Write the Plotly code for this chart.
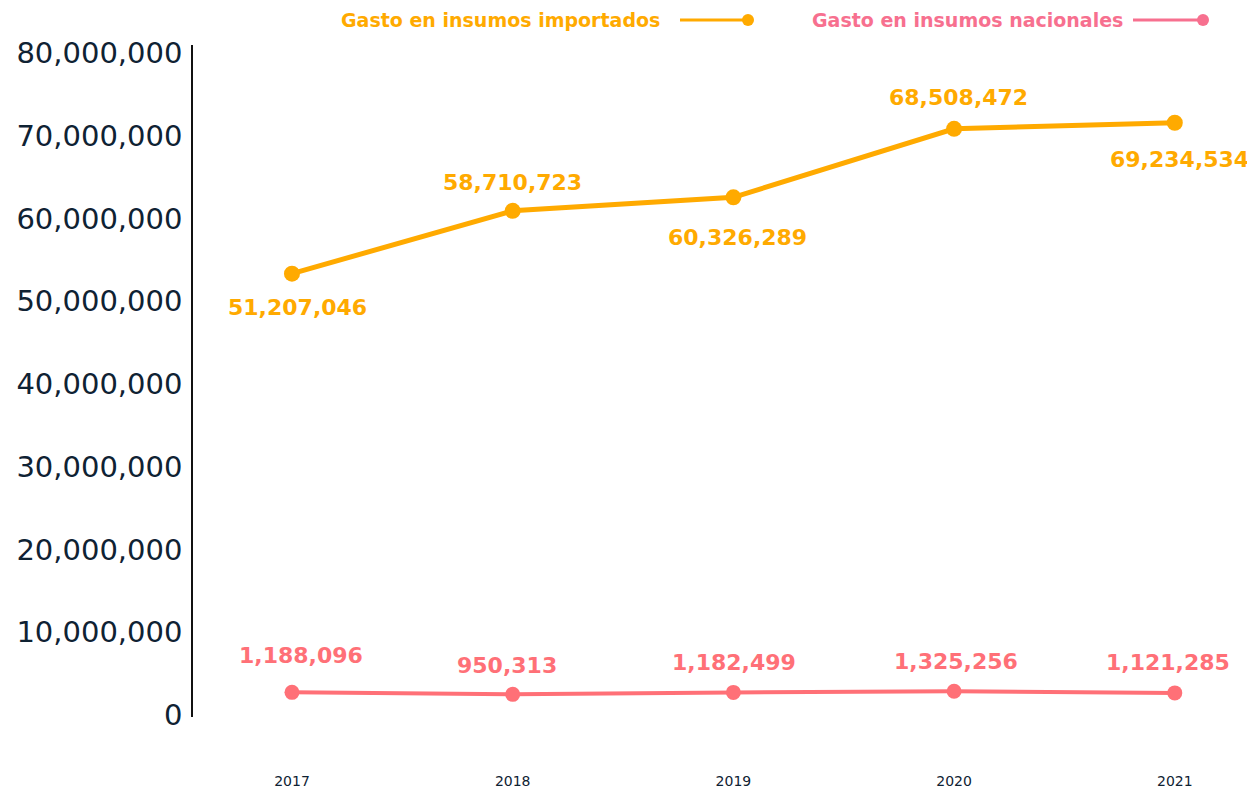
import plotly.graph_objects as go

years = [2017, 2018, 2019, 2020, 2021]
importados = [51207046, 58710723, 60326289, 68508472, 69234534]
nacionales = [1188096, 950313, 1182499, 1325256, 1121285]
y_ticks = [0, 10000000, 20000000, 30000000, 40000000, 50000000, 60000000, 70000000, 80000000]
serie_imp = "Gasto en insumos importados"
serie_nac = "Gasto en insumos nacionales"

ORANGE = "#FFAA00"
PINK = "#FF7077"
PINK_LEG = "#F7708F"
NAVY = "#0F2233"
FONT = "DejaVu Sans"

fig = go.Figure()
# empty trace so the labelled left axis is drawn
fig.add_trace(go.Scatter(x=[], y=[], yaxis="y", showlegend=False, hoverinfo="skip"))
fig.add_trace(go.Scatter(x=years, y=importados, mode="lines+markers", yaxis="y2",
                         line=dict(color=ORANGE, width=5), marker=dict(size=16, color=ORANGE),
                         name=serie_imp, showlegend=False, hoverinfo="x+y"))
fig.add_trace(go.Scatter(x=years, y=nacionales, mode="lines+markers", yaxis="y2",
                         line=dict(color=PINK, width=4), marker=dict(size=15, color=PINK),
                         name=serie_nac, showlegend=False, hoverinfo="x+y"))

imp_shift = [(6, -34), (0, 28), (4, -40), (4, 31), (5, -37)]
nac_shift = [(9, 37), (-6, 29), (1, 30), (2, 30), (-7, 30)]
annotations = []
for yr, v, (dx, dy) in zip(years, importados, imp_shift):
    annotations.append(dict(x=yr, y=v, xref="x", yref="y2", text=f"<b>{v:,}</b>", showarrow=False,
                            xshift=dx, yshift=dy, font=dict(family=FONT, size=22, color=ORANGE)))
for yr, v, (dx, dy) in zip(years, nacionales, nac_shift):
    annotations.append(dict(x=yr, y=v, xref="x", yref="y2", text=f"<b>{v:,}</b>", showarrow=False,
                            xshift=dx, yshift=dy, font=dict(family=FONT, size=22, color=PINK)))

# custom legend (text, then line with dot)
L, W = 193, 1048
def px(v):
    return (v - L) / W
ly = (717 - 20) / 672
shapes = []
for name, col, tx, lx0, lx1 in [(serie_imp, ORANGE, 662, 680, 748), (serie_nac, PINK_LEG, 1125, 1133, 1203)]:
    annotations.append(dict(x=px(tx), y=ly, xref="paper", yref="paper", xanchor="right", yanchor="middle",
                            text=f"<b>{name}</b>", showarrow=False,
                            font=dict(family=FONT, size=19, color=col)))
    shapes.append(dict(type="line", xref="paper", yref="paper", x0=px(lx0), x1=px(lx1), y0=ly, y1=ly,
                       line=dict(color=col, width=3)))
    shapes.append(dict(type="circle", xref="paper", yref="paper", xsizemode="pixel", ysizemode="pixel",
                       xanchor=px(lx1), yanchor=ly, x0=-6, x1=6, y0=-6, y1=6,
                       fillcolor=col, line=dict(color=col, width=0)))

fig.update_layout(
    width=1247, height=784,
    margin=dict(l=185, r=14, t=37, b=75),
    paper_bgcolor="white", plot_bgcolor="white",
    showlegend=False,
    annotations=annotations, shapes=shapes,
    xaxis=dict(range=[2016.5515, 2021.3], tickvals=years, ticktext=[str(y) for y in years],
               showgrid=False, zeroline=False, showline=False, ticks="", automargin=False,
               tickfont=dict(family=FONT, size=14, color=NAVY), ticklabelstandoff=54),
    yaxis=dict(range=[-0.242e6, 80.97e6], tickvals=y_ticks, ticktext=[f"{t:,}" for t in y_ticks],
               showgrid=False, zeroline=False, showline=True, linecolor="#111111", linewidth=1.5,
               ticks="", automargin=False,
               tickfont=dict(family=FONT, size=29, color=NAVY), ticklabelstandoff=3),
    yaxis2=dict(range=[-1.756e6, 78.52e6], overlaying="y", visible=False),
)

fig.write_html("out.html")
